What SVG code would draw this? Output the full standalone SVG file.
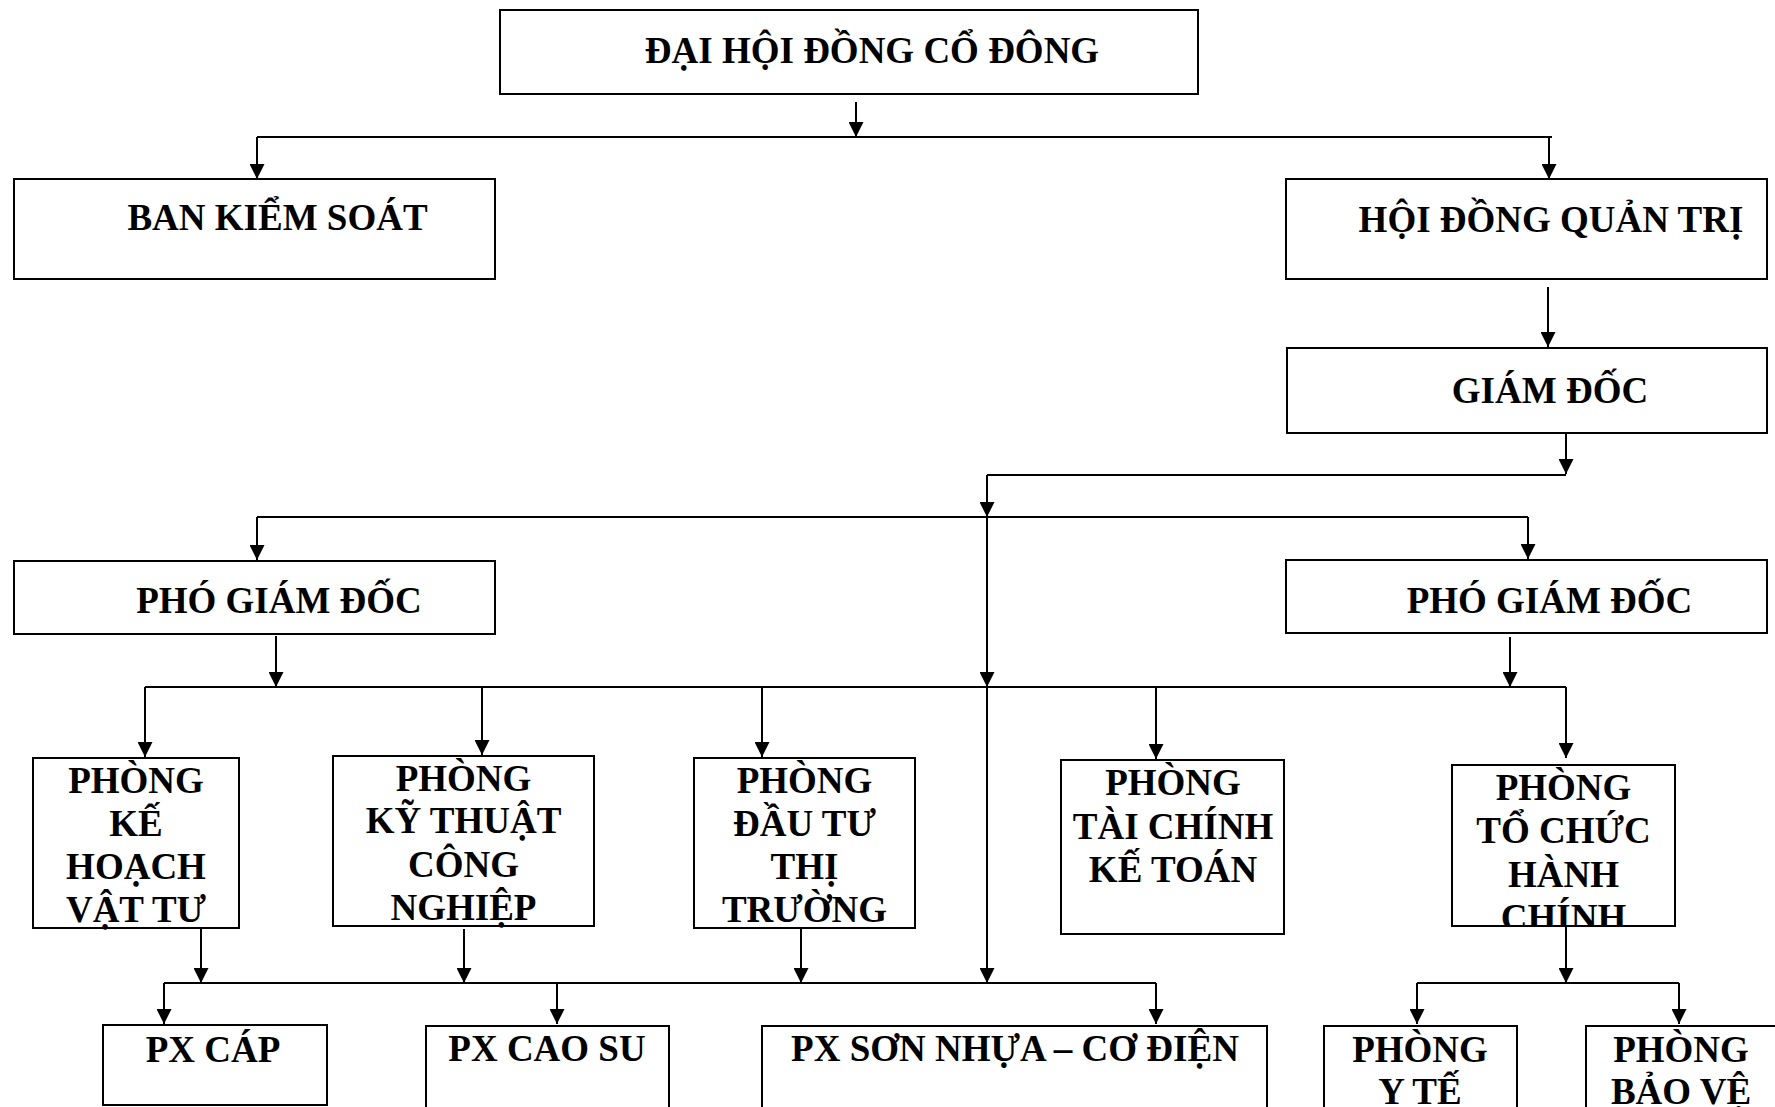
<svg xmlns="http://www.w3.org/2000/svg" width="1775" height="1107" viewBox="0 0 1775 1107">
<style>
.box{fill:#fff;stroke:#000;stroke-width:2}
.t{font-family:"Liberation Serif","Times New Roman",serif;font-weight:bold;font-size:37px;fill:#000;text-anchor:middle}
.c{fill:none;stroke:#000;stroke-width:2}
.a{fill:none;stroke:#000;stroke-width:2;marker-end:url(#ah)}
</style>
<defs>
<marker id="ah" markerWidth="15" markerHeight="15" refX="15" refY="7.5" orient="auto" markerUnits="userSpaceOnUse"><path d="M0,0 L15,7.5 L0,15 Z" fill="#000"/></marker>
<clipPath id="clipTC"><rect x="1452" y="765" width="223" height="161"/></clipPath>
</defs>
<rect width="1775" height="1107" fill="#fff"/>
<g id="connectors">
<line class="a" x1="856" y1="102" x2="856" y2="137"/>
<line class="c" x1="257" y1="137" x2="1552" y2="137"/>
<line class="a" x1="257" y1="137" x2="257" y2="179"/>
<line class="a" x1="1549" y1="137" x2="1549" y2="179"/>
<line class="a" x1="1548" y1="287" x2="1548" y2="347"/>
<line class="a" x1="1566" y1="433" x2="1566" y2="474"/>
<line class="c" x1="987" y1="475" x2="1566" y2="475"/>
<line class="a" x1="987" y1="475" x2="987" y2="517"/>
<line class="c" x1="257" y1="517" x2="1528" y2="517"/>
<line class="a" x1="257" y1="517" x2="257" y2="560"/>
<line class="a" x1="1528" y1="517" x2="1528" y2="559"/>
<line class="a" x1="987" y1="517" x2="987" y2="687"/>
<line class="a" x1="987" y1="687" x2="987" y2="983"/>
<line class="a" x1="276" y1="636" x2="276" y2="687"/>
<line class="a" x1="1510" y1="637" x2="1510" y2="687"/>
<line class="c" x1="145" y1="687" x2="1566" y2="687"/>
<line class="a" x1="145" y1="687" x2="145" y2="757"/>
<line class="a" x1="482" y1="687" x2="482" y2="755"/>
<line class="a" x1="762" y1="687" x2="762" y2="757"/>
<line class="a" x1="1156" y1="687" x2="1156" y2="759"/>
<line class="a" x1="1566" y1="687" x2="1566" y2="758"/>
<line class="a" x1="201" y1="929" x2="201" y2="983"/>
<line class="a" x1="464" y1="929" x2="464" y2="983"/>
<line class="a" x1="801" y1="929" x2="801" y2="983"/>
<line class="c" x1="164" y1="983" x2="1156" y2="983"/>
<line class="a" x1="164" y1="983" x2="164" y2="1024"/>
<line class="a" x1="557" y1="983" x2="557" y2="1024"/>
<line class="a" x1="1156" y1="983" x2="1156" y2="1024"/>
<line class="a" x1="1566" y1="925" x2="1566" y2="983"/>
<line class="c" x1="1417" y1="983" x2="1679" y2="983"/>
<line class="a" x1="1417" y1="983" x2="1417" y2="1024"/>
<line class="a" x1="1679" y1="983" x2="1679" y2="1024"/>
</g>
<g id="dai-hoi-dong-co-dong"><rect class="box" x="500" y="10" width="698" height="84"/><text class="t" x="872" y="63">ĐẠI HỘI ĐỒNG CỔ ĐÔNG</text></g>
<g id="ban-kiem-soat"><rect class="box" x="14" y="179" width="481" height="100"/><text class="t" x="277.5" y="230">BAN KIỂM SOÁT</text></g>
<g id="hoi-dong-quan-tri"><rect class="box" x="1286" y="179" width="481" height="100"/><text class="t" x="1551" y="232">HỘI ĐỒNG QUẢN TRỊ</text></g>
<g id="giam-doc"><rect class="box" x="1287" y="348" width="480" height="85"/><text class="t" x="1550" y="403">GIÁM ĐỐC</text></g>
<g id="pho-giam-doc-1"><rect class="box" x="14" y="561" width="481" height="73"/><text class="t" x="279" y="613">PHÓ GIÁM ĐỐC</text></g>
<g id="pho-giam-doc-2"><rect class="box" x="1286" y="560" width="481" height="73"/><text class="t" x="1549.5" y="613">PHÓ GIÁM ĐỐC</text></g>
<g id="phong-ke-hoach"><rect class="box" x="33" y="758" width="206" height="170"/><text class="t" x="136" y="793">PHÒNG</text><text class="t" x="136" y="836">KẾ</text><text class="t" x="136" y="879">HOẠCH</text><text class="t" x="136" y="922">VẬT TƯ</text></g>
<g id="phong-ky-thuat"><rect class="box" x="333" y="756" width="261" height="170"/><text class="t" x="463.5" y="791">PHÒNG</text><text class="t" x="463.5" y="833">KỸ THUẬT</text><text class="t" x="463.5" y="877">CÔNG</text><text class="t" x="463.5" y="920">NGHIỆP</text></g>
<g id="phong-dau-tu"><rect class="box" x="694" y="758" width="221" height="170"/><text class="t" x="804.5" y="793">PHÒNG</text><text class="t" x="804.5" y="836">ĐẦU TƯ</text><text class="t" x="804.5" y="879">THỊ</text><text class="t" x="804.5" y="922">TRƯỜNG</text></g>
<g id="phong-tai-chinh"><rect class="box" x="1061" y="760" width="223" height="174"/><text class="t" x="1173" y="795">PHÒNG</text><text class="t" x="1173" y="839">TÀI CHÍNH</text><text class="t" x="1173" y="882">KẾ TOÁN</text></g>
<g id="phong-to-chuc"><rect class="box" x="1452" y="765" width="223" height="161"/><g clip-path="url(#clipTC)"><text class="t" x="1563.5" y="800">PHÒNG</text><text class="t" x="1563.5" y="843">TỔ CHỨC</text><text class="t" x="1563.5" y="887">HÀNH</text><text class="t" x="1563.5" y="930">CHÍNH</text></g><rect x="1452" y="765" width="223" height="161" fill="none" stroke="#000" stroke-width="2"/></g>
<g id="px-cap"><rect class="box" x="103" y="1025" width="224" height="80"/><text class="t" x="213" y="1062">PX CÁP</text></g>
<g id="px-cao-su"><rect class="box" x="426" y="1026" width="243" height="100"/><text class="t" x="547" y="1061">PX CAO SU</text></g>
<g id="px-son-nhua"><rect class="box" x="762" y="1026" width="505" height="100"/><text class="t" x="1015" y="1061">PX SƠN NHỰA – CƠ ĐIỆN</text></g>
<g id="phong-y-te"><rect class="box" x="1324" y="1026" width="193" height="100"/><text class="t" x="1420" y="1062">PHÒNG</text><text class="t" x="1420" y="1104">Y TẾ</text></g>
<g id="phong-bao-ve"><rect class="box" x="1586" y="1026" width="200" height="100"/><text class="t" x="1681" y="1062">PHÒNG</text><text class="t" x="1681" y="1104">BẢO VỆ</text></g>
</svg>
